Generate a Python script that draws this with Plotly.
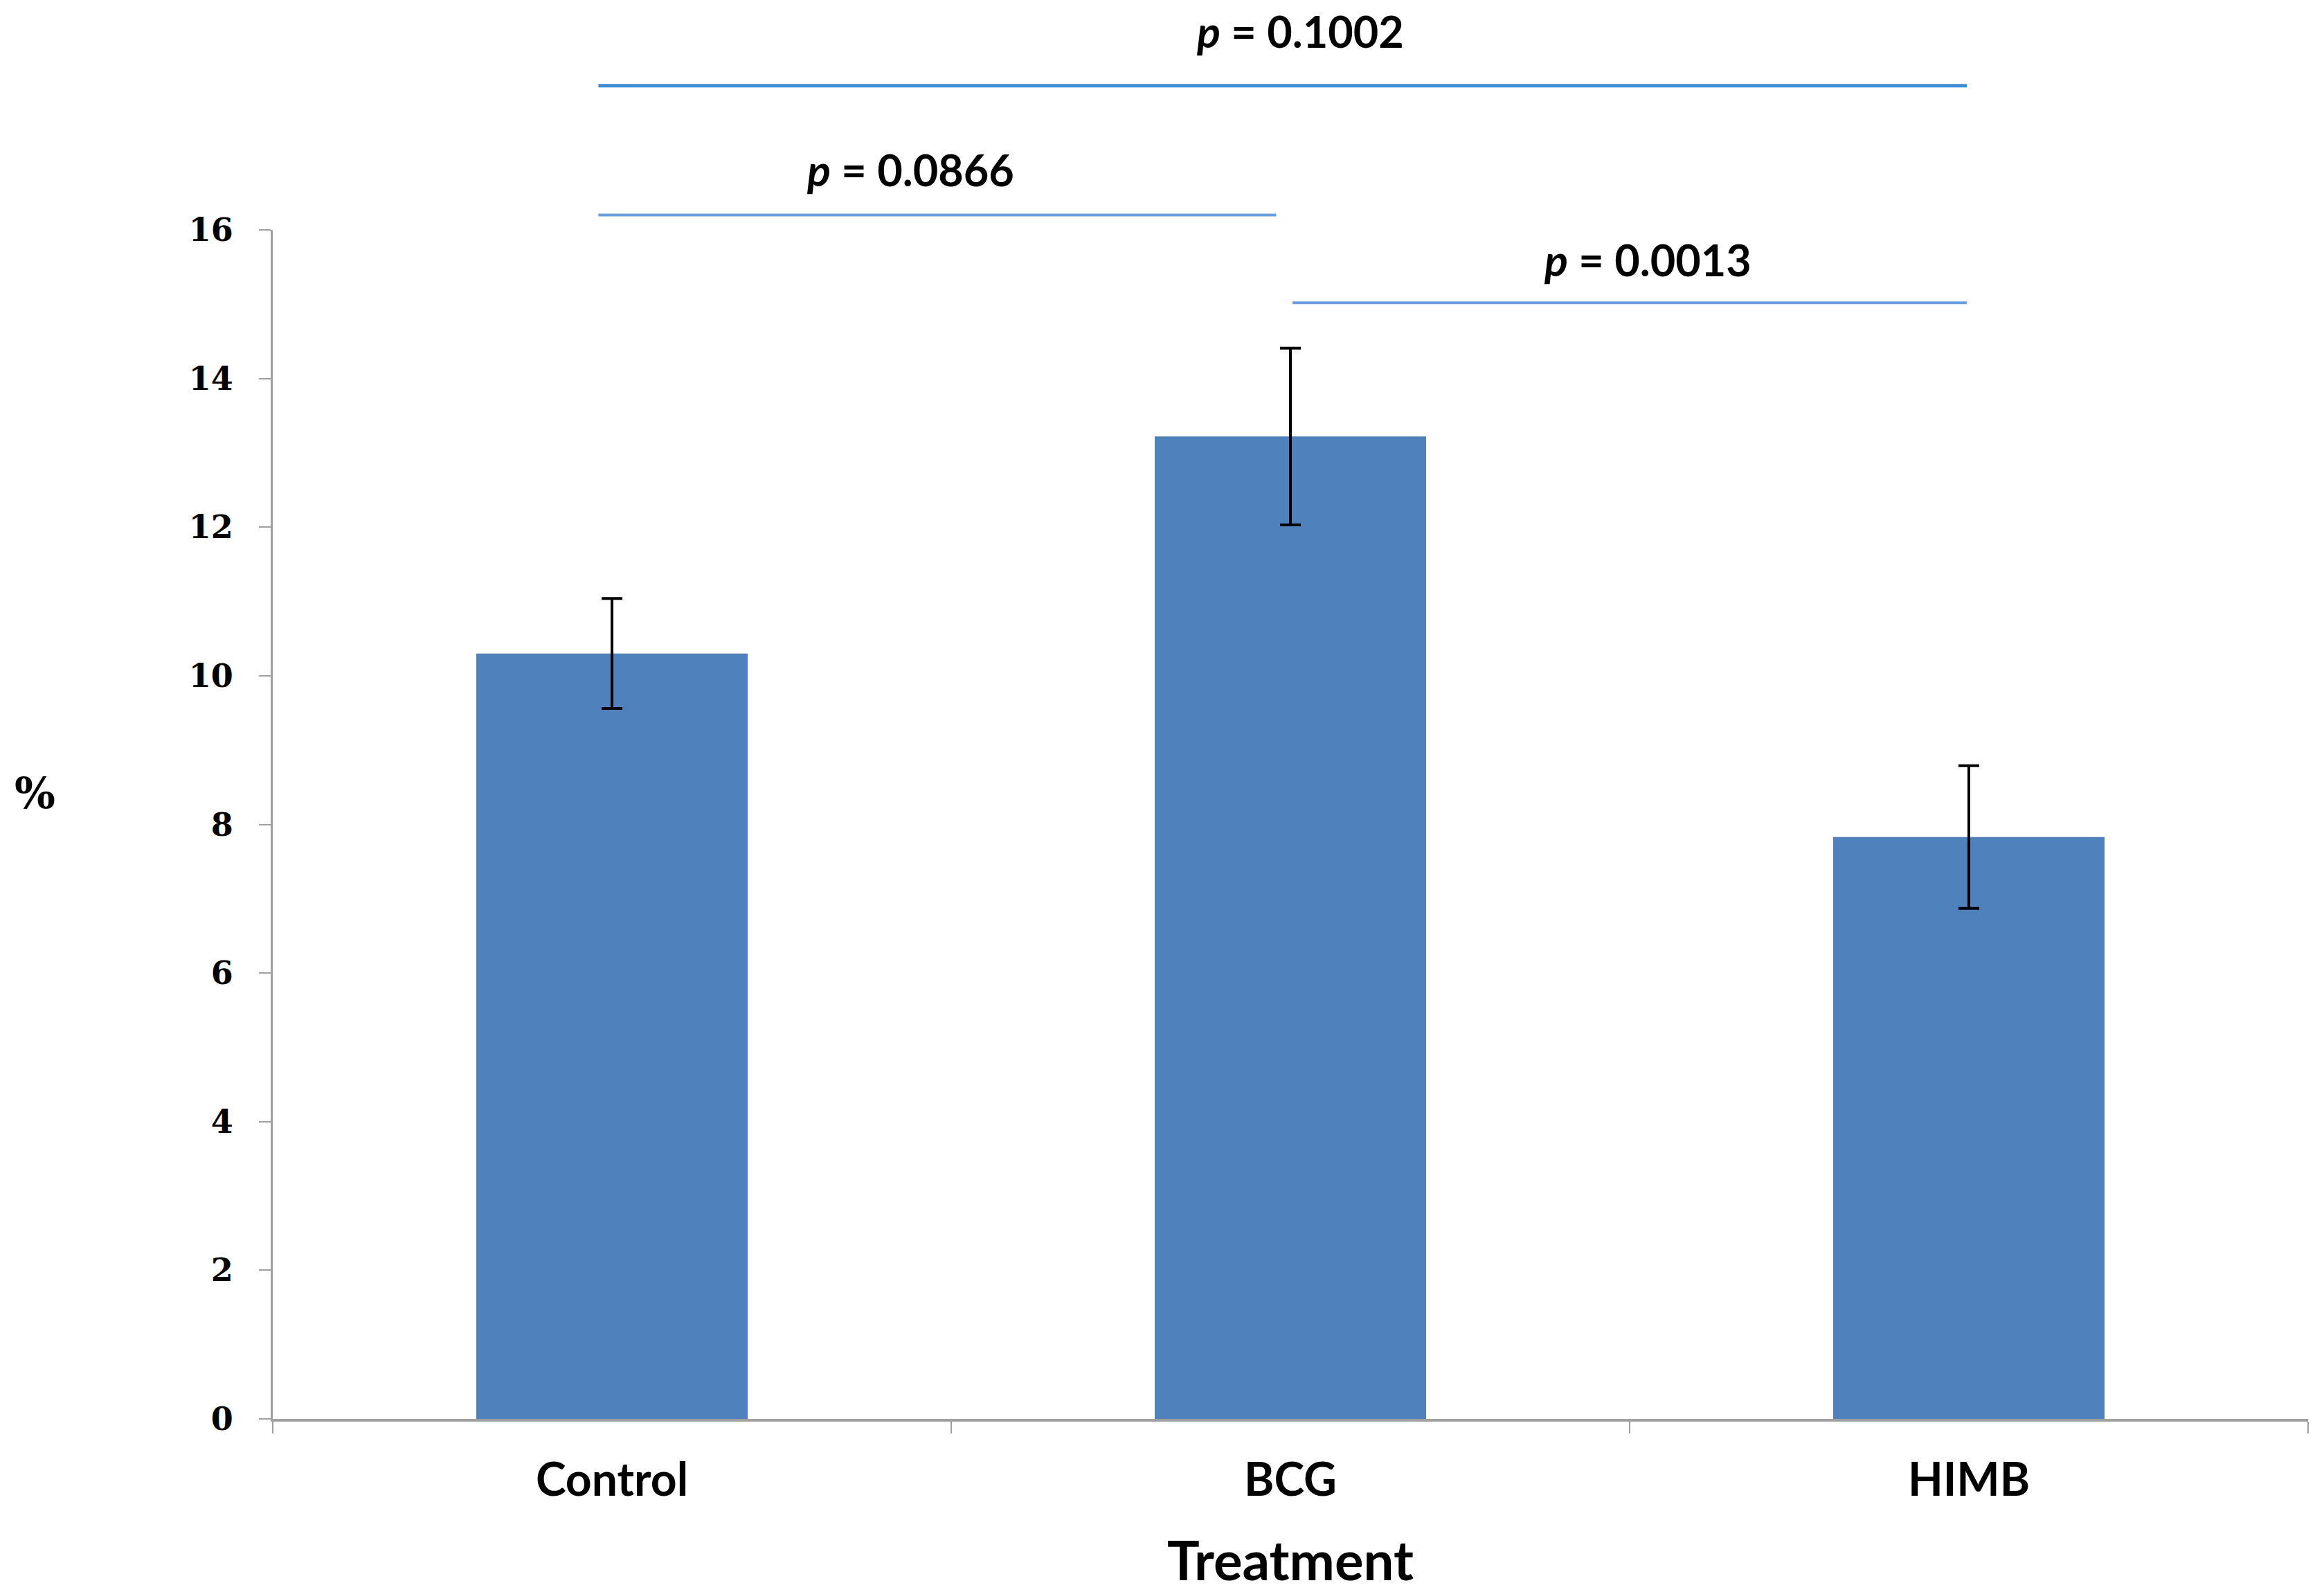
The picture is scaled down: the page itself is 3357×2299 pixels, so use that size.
import plotly.graph_objects as go

categories = ["Control", "BCG", "HIMB"]
means = [10.3, 13.22, 7.83]
errors = [0.74, 1.19, 0.96]
y_ticks = [0, 2, 4, 6, 8, 10, 12, 14, 16]

# significance brackets: (x start, x end, bracket height, label, label height, label x)
br_x0 = [-0.02, -0.02, 1.003]
br_x1 = [1.997, 0.979, 1.997]
br_y = [17.94, 16.2, 15.02]
br_labels = ["p = 0.1002", "p = 0.0866", "p = 0.0013"]
br_label_y = [18.68, 16.82, 15.6]
br_label_x = [1.014, 0.44, 1.527]
br_colors = ["#3D8DD2", "#6A9EDC", "#6A9EDC"]
br_widths = [5, 4, 4]

Y_MAX = 16

fig = go.Figure()
fig.add_trace(go.Bar(
    x=categories, y=means, width=0.4,
    marker=dict(color="#4F81BD", line=dict(width=0)),
    error_y=dict(type="data", array=errors, visible=True,
                 color="black", thickness=4, width=15),
))

for i in range(len(br_labels)):
    fig.add_shape(type="line", xref="x", yref="paper",
                  x0=br_x0[i], x1=br_x1[i],
                  y0=br_y[i] / Y_MAX, y1=br_y[i] / Y_MAX,
                  line=dict(color=br_colors[i], width=br_widths[i]))
    p, rest = br_labels[i].split(" ", 1)
    fig.add_annotation(x=br_label_x[i], xref="x", y=br_label_y[i] / Y_MAX, yref="paper",
                       text="<b><i>" + p + "</i> " + rest + "</b>", showarrow=False,
                       font=dict(family="Lato", size=63, color="black"),
                       xanchor="center", yanchor="middle")

fig.add_annotation(x=-0.1167, xref="paper", y=8.42 / Y_MAX, yref="paper",
                   text="<b>%</b>", showarrow=False,
                   font=dict(family="DejaVu Serif", size=62, color="black"),
                   xanchor="center", yanchor="middle")
fig.add_annotation(x=0.5, xref="paper", y=-0.118, yref="paper",
                   text="<b>Treatment</b>", showarrow=False,
                   font=dict(family="Lato", size=78, color="black"),
                   xanchor="center", yanchor="middle")

fig.update_layout(
    width=3349, height=2291,
    margin=dict(l=386, r=23, t=324, b=250),
    paper_bgcolor="white", plot_bgcolor="white",
    showlegend=False,
    xaxis=dict(type="category", tickson="boundaries", ticks="outside", ticklen=17,
               tickwidth=2, tickcolor="#A0A0A0", showline=True, linecolor="#A0A0A0",
               linewidth=4, showgrid=False, zeroline=False,
               tickfont=dict(family="Lato", size=66, color="black"),
               ticklabelstandoff=28,
               tickvals=categories, ticktext=["<b>" + c + "</b>" for c in categories]),
    yaxis=dict(range=[0, Y_MAX], tickvals=y_ticks,
               ticktext=["<b>%d</b>" % v for v in y_ticks],
               ticks="outside", ticklen=17, tickwidth=2, tickcolor="#A0A0A0",
               showline=True, linecolor="#A0A0A0", linewidth=3,
               showgrid=False, zeroline=False,
               tickfont=dict(family="DejaVu Serif", size=46, color="black"),
               ticklabelstandoff=28),
)

fig.write_html("out.html")
